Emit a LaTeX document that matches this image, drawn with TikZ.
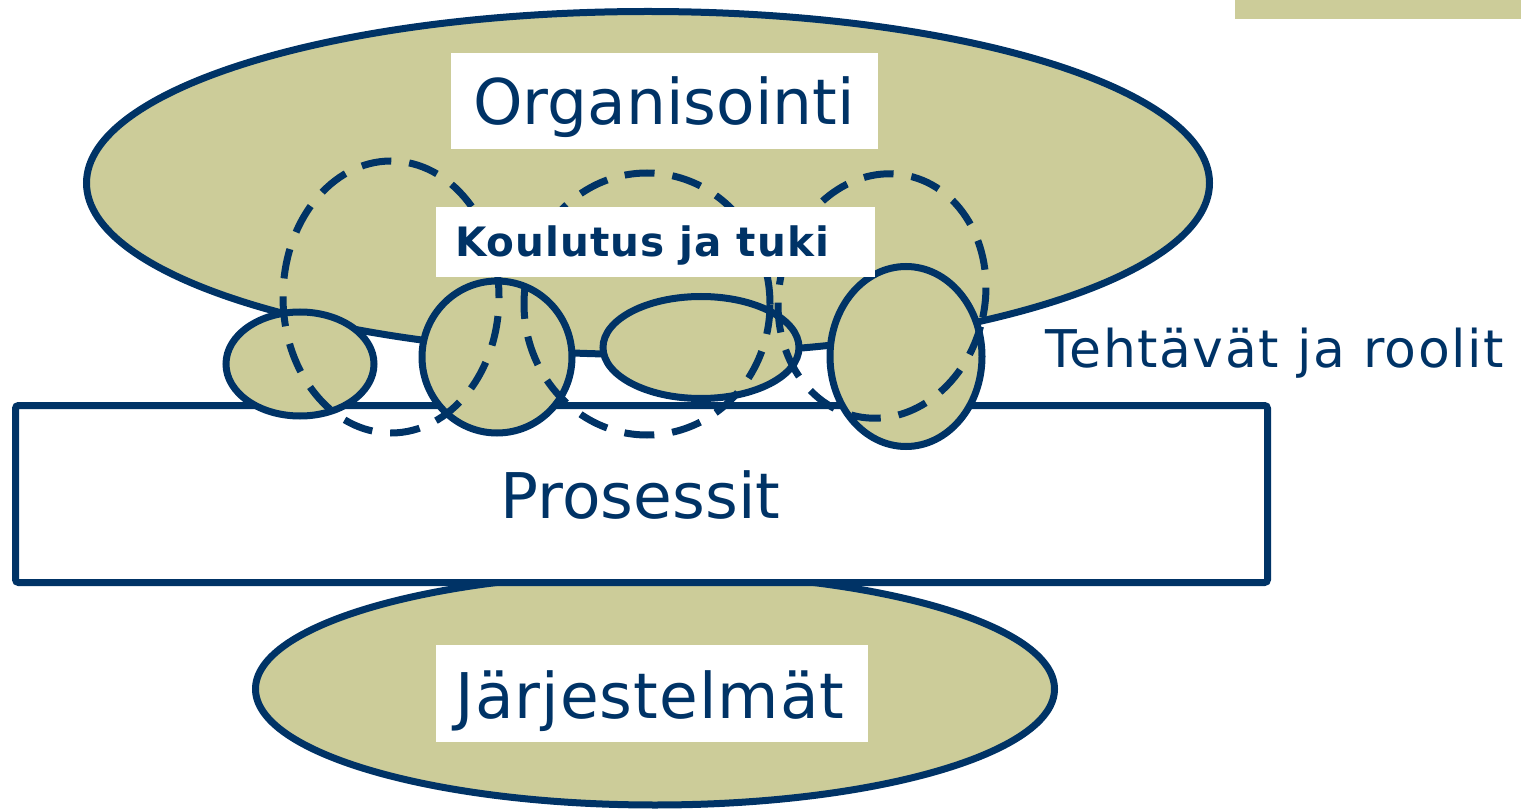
\documentclass[tikz,border=0pt]{standalone}
\usepackage{fontspec}
\setmainfont{DejaVu Sans}
\usetikzlibrary{shapes.geometric}
\definecolor{navy}{RGB}{0,51,102}
\definecolor{khaki}{RGB}{204,204,153}
\tikzset{
  solidell/.style={ellipse, draw=navy, fill=khaki, line width=7pt, inner sep=0pt, outer sep=0pt},
  dashloop/.style={ellipse, draw=navy, line width=7pt, inner sep=0pt, dash pattern=on 30pt off 18pt},
  labelbox/.style={fill=white, inner sep=0pt, outer sep=0pt},
  lbl/.style={text=navy, inner sep=0pt, outer sep=0pt},
}
\begin{document}
\begin{tikzpicture}[x=1pt,y=-1pt]
\useasboundingbox (0,0) rectangle (1521,810);
% top-right bar
\fill[khaki] (1235,0) rectangle (1521,19);
% big ellipses
\node[solidell, minimum width=1123pt, minimum height=343pt] (org) at (648,183) {};
\node[solidell, minimum width=799pt, minimum height=232pt] (jar) at (655,689) {};
% process rectangle
\node[draw=navy, fill=white, line width=7pt, rounded corners=3pt, inner sep=0pt,
      minimum width=1252pt, minimum height=177pt] (pro) at (641.5,494) {};
% small role ellipses
\node[solidell, minimum width=148pt, minimum height=104pt] (e1) at (300,364) {};
\node[solidell, minimum width=150pt, minimum height=152pt] (e2) at (497,357) {};
\node[solidell, minimum width=196pt, minimum height=102pt] (e3) at (701,347.5) {};
\node[solidell, minimum width=152pt, minimum height=180pt] (e4) at (906,356.5) {};
% dashed training loops
\node[dashloop, minimum width=216pt, minimum height=272pt] (l1) at (391,297) {};
\node[dashloop, minimum width=246pt, minimum height=262pt] (l2) at (647,304) {};
\node[dashloop, minimum width=206pt, minimum height=246pt, rotate=-12] (l3) at (882,296) {};
% labels
\node[labelbox, minimum width=427pt, minimum height=96pt] (orgbox) at (664.5,101) {};
\node[lbl, anchor=base, font=\fontsize{63}{70}\selectfont] (orgtxt) at (664,125) {Organisointi};
\node[labelbox, minimum width=439pt, minimum height=70pt] (kbox) at (655.5,242) {};
\node[lbl, anchor=base west, font=\fontsize{40.5}{46}\selectfont\bfseries\addfontfeatures{LetterSpace=2.5}] (ktxt) at (455,257) {Koulutus ja tuki};
\node[lbl, anchor=base west, font=\fontsize{52}{58}\selectfont\addfontfeatures{LetterSpace=3}] (ttxt) at (1045,367) {Tehtävät ja roolit};
\node[lbl, anchor=base, font=\fontsize{63}{70}\selectfont] (ptxt) at (640.5,518) {Prosessit};
\node[labelbox, minimum width=432pt, minimum height=97pt] (jbox) at (652,693.5) {};
\node[lbl, anchor=base, font=\fontsize{63}{70}\selectfont\addfontfeatures{LetterSpace=1.6}] (jtxt) at (650,718) {Järjestelmät};
\end{tikzpicture}
\end{document}
